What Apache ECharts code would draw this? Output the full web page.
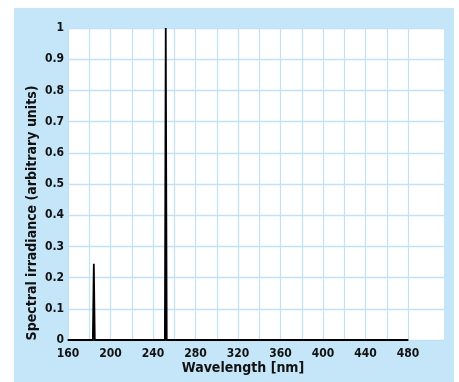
<!DOCTYPE html>
<html><head><meta charset="utf-8">
<script src="https://cdn.jsdelivr.net/npm/echarts@6/dist/echarts.min.js"></script>
<style>html,body{margin:0;padding:0;background:#fff;}#c{width:459px;height:382px;}</style>
</head><body><div id="c"></div>
<script>
// Data
var wavelengths = [160, 183.4, 184.3, 185.2, 193.0, 193.8, 194.6, 225.2, 226.0, 226.8, 242.2, 243.0, 243.8, 251.2, 252.0, 252.9, 253.6, 254.4, 480];
var irradiance  = [0,   0,     0.244, 0,     0,     0.006, 0,     0,     0.002, 0,     0,     0.004, 0,     0,     1.0,   0,     0.003, 0,     0];
var xTicks = [160, 200, 240, 280, 320, 360, 400, 440, 480];
var yTicks = [0, 0.1, 0.2, 0.3, 0.4, 0.5, 0.6, 0.7, 0.8, 0.9, 1];

var FONT = "'Liberation Sans Narrow','Arial Narrow','DejaVu Sans Condensed',sans-serif";
var GRIDC = '#c2e1f5';
var pts = wavelengths.map(function(w, i){ return [w, irradiance[i]]; });

var chart = echarts.init(document.getElementById('c'), null, {renderer:'canvas'});
chart.setOption({
  animation: false,
  backgroundColor: '#ffffff',
  graphic: [
    {type:'rect', z:-10, shape:{x:14, y:8, width:440, height:374}, style:{fill:'#c5e5f8'}, silent:true},
    {type:'text', x:243, y:368, style:{text:'Wavelength [nm]', font:"bold 14px " + FONT, fill:'#111', align:'center', verticalAlign:'middle'}},
    {type:'text', x:32, y:213, rotation:Math.PI/2, style:{text:'Spectral irradiance (arbitrary units)', font:"bold 14px " + FONT, fill:'#111', align:'center', verticalAlign:'middle'}}
  ],
  grid: [
    {left:68, top:28, width:376, height:312, show:true, backgroundColor:'#ffffff', borderWidth:0},
    {left:68, top:28, width:340, height:312, show:false}
  ],
  xAxis: [
    {gridIndex:0, type:'value', min:0, max:1, show:false},
    {gridIndex:1, type:'value', min:160, max:480, interval:20,
     axisLine:{show:true, lineStyle:{color:'#111', width:1.5}},
     axisTick:{show:false},
     splitLine:{show:true, lineStyle:{color:GRIDC, width:1.2}},
     axisLabel:{margin:8, color:'#111', fontWeight:'bold', fontSize:12, fontFamily:FONT,
       formatter:function(v){ return xTicks.indexOf(v) >= 0 ? String(v) : ''; }}}
  ],
  yAxis: [
    {gridIndex:0, type:'value', min:0, max:1, interval:0.1,
     axisLine:{show:false}, axisTick:{show:false},
     splitLine:{show:true, lineStyle:{color:GRIDC, width:1.4}},
     axisLabel:{margin:4, color:'#111', fontWeight:'bold', fontSize:12, fontFamily:FONT,
       formatter:function(v){ var r = Math.round(v*10)/10; return yTicks.indexOf(r) >= 0 ? String(r) : ''; }}},
    {gridIndex:1, type:'value', min:0, max:1, show:false}
  ],
  series: [{
    type:'line', xAxisIndex:1, yAxisIndex:1, data:pts, showSymbol:false, symbol:'none',
    lineStyle:{color:'#000', width:1.8}, z:5
  }]
});
</script></body></html>
